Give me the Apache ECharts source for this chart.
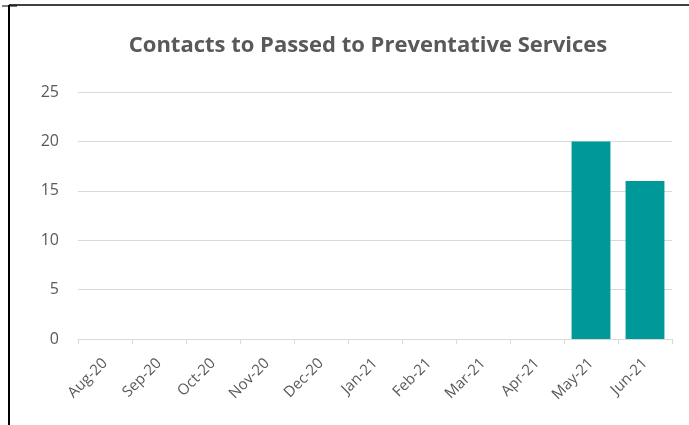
<!DOCTYPE html>
<html><head><meta charset="utf-8">
<script src="https://cdn.jsdelivr.net/npm/echarts@6/dist/echarts.min.js"></script>
<style>html,body{margin:0;padding:0;background:#fff}#c{width:689px;height:425px}</style>
</head><body><div id="c"></div>
<script>
const categories = ['Aug-20','Sep-20','Oct-20','Nov-20','Dec-20','Jan-21','Feb-21','Mar-21','Apr-21','May-21','Jun-21'];
const contacts = [0,0,0,0,0,0,0,0,0,20,16];
const yTicks = {min:0, max:25, interval:5};

const chart = echarts.init(document.getElementById('c'));
chart.setOption({
  animation:false,
  title:{text:'Contacts to Passed to Preventative Services', left:363, top:30, textAlign:'center',
    textStyle:{fontFamily:'Open Sans', fontSize:22, fontWeight:'bold', color:'#595959'}},
  grid:{left:78, right:17, top:92, bottom:86},
  xAxis:{type:'category', data:categories,
    axisLine:{lineStyle:{color:'#d9d9d9'}},
    axisTick:{show:true, alignWithLabel:false, lineStyle:{color:'#d9d9d9'}, length:5},
    axisLabel:{rotate:45, color:'#595959', fontFamily:'Open Sans', fontSize:15, margin:22}},
  yAxis:{type:'value', min:yTicks.min, max:yTicks.max, interval:yTicks.interval,
    axisLine:{show:false}, axisTick:{show:false},
    splitLine:{lineStyle:{color:'#d9d9d9'}},
    axisLabel:{color:'#595959', fontFamily:'Open Sans', fontSize:16, margin:19}},
  series:[{type:'bar', data:contacts, barCategoryGap:'28%', itemStyle:{color:'#009999'}}],
  graphic:[
    {type:'line', shape:{x1:9, y1:5, x2:689, y2:5}, style:{stroke:'#000', lineWidth:1.5}},
    {type:'line', shape:{x1:2, y1:6, x2:17, y2:6}, style:{stroke:'#000', lineWidth:1}},
    {type:'line', shape:{x1:9, y1:5, x2:9, y2:425}, style:{stroke:'#000', lineWidth:2}}
  ]
});
</script></body></html>
